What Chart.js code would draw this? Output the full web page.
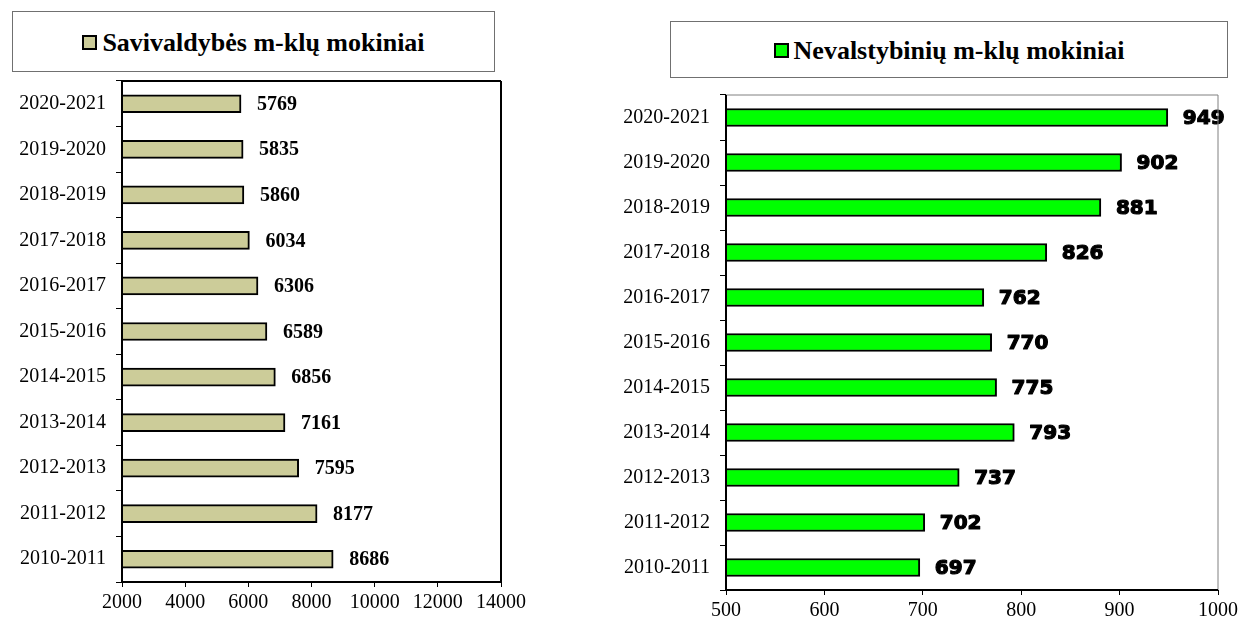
<!DOCTYPE html>
<html>
<head>
<meta charset="utf-8">
<script src="https://cdn.jsdelivr.net/npm/chart.js@4/dist/chart.umd.min.js"></script>
<style>
  body { margin: 0; background: #fff; width: 1253px; height: 619px; overflow: hidden; position: relative; }
  canvas { position: absolute; top: 0; }
  .legend {
    position: absolute; box-sizing: border-box; border: 1px solid #707070; background: #fff;
    display: flex; align-items: center; justify-content: center;
    font: bold 26px "Liberation Serif", serif; color: #000;
  }
  .legend .sw { display: inline-block; width: 11px; height: 11px; border: 2px solid #000; margin-right: 5px; }
</style>
</head>
<body>
<div class="legend" id="legLeft" style="left:12px;top:11px;width:483px;height:61px;padding-top:2px;"><span class="sw"></span><span class="tx"></span></div>
<div class="legend" id="legRight" style="left:670px;top:21px;width:558px;height:57px;padding-top:2px;"><span class="sw"></span><span class="tx"></span></div>
<canvas id="leftChart" width="530" height="619" style="left:0"></canvas>
<canvas id="rightChart" width="713" height="619" style="left:540px"></canvas>
<script>
// school years, oldest first (drawn bottom to top)
var years = ['2010-2011', '2011-2012', '2012-2013', '2013-2014', '2014-2015', '2015-2016',
             '2016-2017', '2017-2018', '2018-2019', '2019-2020', '2020-2021'];
var municipalLabel = 'Savivaldybės m-klų mokiniai';
var municipalPupils = [8686, 8177, 7595, 7161, 6856, 6589, 6306, 6034, 5860, 5835, 5769];
var privateLabel = 'Nevalstybinių m-klų mokiniai';
var privatePupils = [697, 702, 737, 793, 775, 770, 762, 826, 881, 902, 949];
var municipalTicks = [2000, 4000, 6000, 8000, 10000, 12000, 14000];
var privateTicks = [500, 600, 700, 800, 900, 1000];

var tan = 'rgb(204, 204, 153)';
var green = 'rgb(0, 255, 0)';

// value written right of every bar
const barValueLabels = {
    id: 'barValueLabels',
    afterDatasetsDraw(chart, args, opts) {
        var ctx = chart.ctx;
        chart.data.datasets.forEach(function (ds, di) {
            chart.getDatasetMeta(di).data.forEach(function (bar, i) {
                ctx.save();
                ctx.font = opts.font;
                ctx.fillStyle = '#000';
                ctx.textBaseline = 'middle';
                ctx.textAlign = 'left';
                var x = bar.x + opts.offset;
                if (opts.stroke) {
                    ctx.strokeStyle = '#000';
                    ctx.lineWidth = opts.stroke;
                    ctx.lineJoin = 'round';
                    ctx.strokeText(String(ds.data[i]), x, bar.y + 1);
                }
                ctx.fillText(String(ds.data[i]), x, bar.y + 1);
                ctx.restore();
            });
        });
    }
};

// plot area border, each side its own colour / width
const plotFrame = {
    id: 'plotFrame',
    afterDraw(chart, args, opts) {
        var a = chart.chartArea, ctx = chart.ctx;
        var sides = [
            ['top', a.left, a.top, a.right, a.top],
            ['right', a.right, a.top, a.right, a.bottom],
            ['bottom', a.left, a.bottom, a.right, a.bottom],
            ['left', a.left, a.top, a.left, a.bottom]
        ];
        ctx.save();
        sides.forEach(function (s) {
            var st = opts[s[0]];
            ctx.strokeStyle = st.color;
            ctx.lineWidth = st.width;
            ctx.beginPath();
            ctx.moveTo(s[1], s[2]);
            ctx.lineTo(s[3], s[4]);
            ctx.stroke();
        });
        ctx.restore();
    }
};

function makeChart(el, label, values, color, ticks, cfg) {
    var serif = {family: '"Liberation Serif", "Times New Roman", serif', size: 20};
    return new Chart(el, {
        type: 'bar',
        data: {
            labels: years,
            datasets: [{
                label: label,
                data: values,
                backgroundColor: color,
                borderColor: '#000',
                borderWidth: 2,
                borderSkipped: 'start',
                barThickness: 18,
            }]
        },
        plugins: [barValueLabels, plotFrame],
        options: {
            indexAxis: 'y',
            responsive: false,
            animation: false,
            layout: {padding: {top: cfg.top, right: cfg.right, left: 0, bottom: 0}},
            scales: {
                x: {
                    min: ticks[0],
                    max: ticks[ticks.length - 1],
                    afterBuildTicks: function (scale) {
                        scale.ticks = ticks.map(function (v) { return {value: v}; });
                    },
                    afterFit: function (scale) { scale.height = cfg.xHeight; },
                    border: {display: false},
                    grid: {drawOnChartArea: false, drawTicks: true, tickLength: 5, color: '#000'},
                    ticks: {
                        color: '#000', font: serif, padding: 4, maxRotation: 0, autoSkip: false,
                        callback: function (v) { return String(v); },
                    },
                },
                y: {
                    reverse: true,
                    afterFit: function (scale) { scale.width = cfg.yWidth; },
                    border: {display: false},
                    grid: {drawOnChartArea: false, drawTicks: true, tickLength: 6, color: '#000'},
                    ticks: {color: '#000', font: serif, padding: 10},
                },
            },
            plugins: {
                legend: {display: false},
                tooltip: {enabled: false},
                barValueLabels: cfg.labels,
                plotFrame: cfg.frame,
            },
        },
    });
}

function fillLegend(id, label, color) {
    var box = document.getElementById(id);
    box.querySelector('.sw').style.background = color;
    box.querySelector('.tx').textContent = label;
}

document.addEventListener('DOMContentLoaded', function () {
    fillLegend('legLeft', municipalLabel, tan);
    fillLegend('legRight', privateLabel, green);

    var black2 = {color: '#000', width: 2};
    makeChart(document.getElementById('leftChart'), municipalLabel, municipalPupils, tan, municipalTicks, {
        top: 81, right: 27, xHeight: 37, yWidth: 122,
        labels: {font: 'bold 20px "Liberation Serif", serif', offset: 16},
        frame: {top: black2, right: black2, bottom: black2, left: black2},
    });

    var grey1 = {color: '#808080', width: 1};
    makeChart(document.getElementById('rightChart'), privateLabel, privatePupils, green, privateTicks, {
        top: 95, right: 35, xHeight: 29, yWidth: 186,
        labels: {font: 'bold 20px "DejaVu Sans", sans-serif', offset: 15, stroke: 1.2},
        frame: {top: grey1, right: grey1, bottom: black2, left: black2},
    });
});
</script>
</body>
</html>
